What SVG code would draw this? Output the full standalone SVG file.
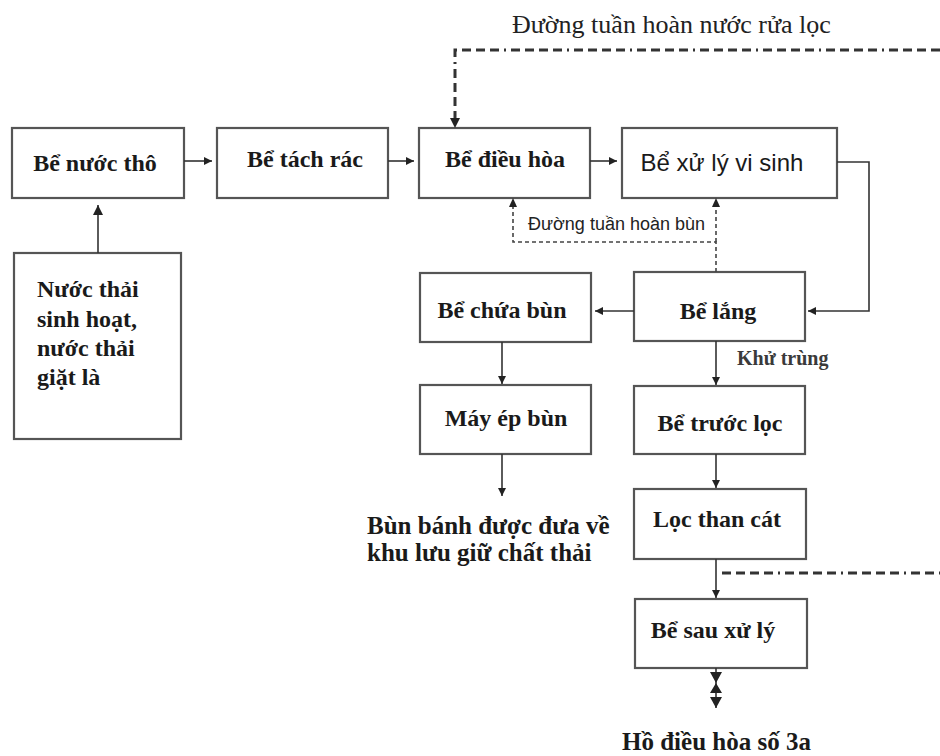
<svg xmlns="http://www.w3.org/2000/svg" width="940" height="756" viewBox="0 0 940 756">
  <defs>
    <style>
      .box { fill: #ffffff; stroke: #555555; stroke-width: 2.2; }
      .lbl { font-family: "Liberation Serif", "Times New Roman", serif; font-weight: bold; font-size: 24px; fill: #1a1a1a; }
      .lbl-lg { font-size: 25px; }
      .lbl-sans { font-family: "Liberation Sans", Arial, sans-serif; font-size: 24px; fill: #1a1a1a; }
      .note { font-family: "Liberation Serif", "Times New Roman", serif; font-size: 26px; fill: #222222; }
      .note-sans { font-family: "Liberation Sans", Arial, sans-serif; font-size: 18px; fill: #222222; }
      .note-bold { font-family: "Liberation Serif", "Times New Roman", serif; font-weight: bold; font-size: 20px; fill: #3a3a3a; }
      .flow { fill: none; stroke: #333333; stroke-width: 1.6; }
      .wash { fill: none; stroke: #333333; stroke-width: 3; stroke-dasharray: 9 5 9 5 9 5 9 5 2 5; }
      .sludge { fill: none; stroke: #444444; stroke-width: 1.6; stroke-dasharray: 4 3; }
    </style>
    <marker id="arr" viewBox="0 0 10 10" refX="10" refY="5" markerWidth="8" markerHeight="8" orient="auto" markerUnits="userSpaceOnUse">
      <path d="M0,0 L10,5 L0,10 z" fill="#222222"/>
    </marker>
    <marker id="arr-big" viewBox="0 0 10 10" refX="10" refY="5" markerWidth="10" markerHeight="10" orient="auto" markerUnits="userSpaceOnUse">
      <path d="M0,0 L10,5 L0,10 z" fill="#222222"/>
    </marker>
  </defs>

  <rect width="940" height="756" fill="#ffffff"/>

  <!-- process tanks -->
  <g id="be-nuoc-tho">
    <rect class="box" x="12" y="128" width="172" height="70"/>
    <text class="lbl" x="95" y="171" text-anchor="middle">Bể nước thô</text>
  </g>
  <g id="be-tach-rac">
    <rect class="box" x="217" y="128" width="171" height="70"/>
    <text class="lbl" x="305" y="167" text-anchor="middle">Bể tách rác</text>
  </g>
  <g id="be-dieu-hoa">
    <rect class="box" x="419" y="128" width="171" height="70"/>
    <text class="lbl" x="505" y="167" text-anchor="middle">Bể điều hòa</text>
  </g>
  <g id="be-xu-ly-vi-sinh">
    <rect class="box" x="622" y="128" width="215" height="70"/>
    <text class="lbl-sans" x="722" y="171" text-anchor="middle">Bể xử lý vi sinh</text>
  </g>
  <g id="nuoc-thai">
    <rect class="box" x="14" y="253" width="167" height="186"/>
    <text class="lbl" x="37" y="297">Nước thải</text>
    <text class="lbl" x="37" y="327">sinh hoạt,</text>
    <text class="lbl" x="37" y="356">nước thải</text>
    <text class="lbl" x="37" y="385">giặt là</text>
  </g>
  <g id="be-chua-bun">
    <rect class="box" x="420" y="273" width="171" height="69"/>
    <text class="lbl" x="502" y="318" text-anchor="middle">Bể chứa bùn</text>
  </g>
  <g id="be-lang">
    <rect class="box" x="634" y="272" width="171" height="69"/>
    <text class="lbl" x="718" y="319" text-anchor="middle">Bể lắng</text>
  </g>
  <g id="may-ep-bun">
    <rect class="box" x="420" y="385" width="171" height="69"/>
    <text class="lbl" x="506" y="426" text-anchor="middle">Máy ép bùn</text>
  </g>
  <g id="be-truoc-loc">
    <rect class="box" x="634" y="386" width="171" height="68"/>
    <text class="lbl" x="720" y="431" text-anchor="middle">Bể trước lọc</text>
  </g>
  <g id="loc-than-cat">
    <rect class="box" x="634" y="489" width="172" height="70"/>
    <text class="lbl" x="717" y="527" text-anchor="middle">Lọc than cát</text>
  </g>
  <g id="be-sau-xu-ly">
    <rect class="box" x="635" y="599" width="172" height="69"/>
    <text class="lbl" x="713" y="638" text-anchor="middle">Bể sau xử lý</text>
  </g>

  <!-- outlet labels -->
  <g id="bun-banh">
    <text class="lbl lbl-lg" x="367" y="534">Bùn bánh được đưa về</text>
    <text class="lbl lbl-lg" x="367" y="561">khu lưu giữ chất thải</text>
  </g>
  <g id="ho-dieu-hoa">
    <text class="lbl lbl-lg" x="622" y="750">Hồ điều hòa số 3a</text>
  </g>

  <!-- connectors -->
  <g id="connectors">
    <line class="flow" x1="98" y1="253" x2="98" y2="205" marker-end="url(#arr-big)"/>
    <line class="flow" x1="184" y1="161" x2="212" y2="161" marker-end="url(#arr)"/>
    <line class="flow" x1="388" y1="161" x2="414" y2="161" marker-end="url(#arr)"/>
    <line class="flow" x1="590" y1="161" x2="617" y2="161" marker-end="url(#arr)"/>
    <polyline class="flow" points="837,162 869,162 869,311 808,311" marker-end="url(#arr)"/>
    <line class="flow" x1="634" y1="311" x2="595" y2="311" marker-end="url(#arr)"/>
    <line class="flow" x1="502" y1="342" x2="502" y2="384" marker-end="url(#arr)"/>
    <line class="flow" x1="502" y1="454" x2="502" y2="496" marker-end="url(#arr)"/>
    <line class="flow" x1="716" y1="341" x2="716" y2="385" marker-end="url(#arr)"/>
    <line class="flow" x1="716" y1="454" x2="716" y2="488" marker-end="url(#arr)"/>
    <line class="flow" x1="716" y1="559" x2="716" y2="598" marker-end="url(#arr)"/>

    <!-- outlet with valve -->
    <line class="flow" x1="716" y1="668" x2="716" y2="708"/>
    <path d="M710,672 L722,672 L716,683 L722,693 L710,693 L716,683 z" fill="#222222"/>
    <path d="M710,697 L722,697 L716,708 z" fill="#222222"/>

    <!-- filter wash-water return -->
    <polyline class="wash" points="940,50 455,50 455,120"/>
    <path d="M450,118 L460,118 L455,128 z" fill="#222222"/>
    <line class="wash" x1="722" y1="573" x2="940" y2="573"/>

    <!-- sludge return -->
    <polyline class="sludge" points="716,272 716,242 513,242 513,205"/>
    <line class="sludge" x1="716" y1="242" x2="716" y2="205"/>
    <path d="M509,207 L517,207 L513,198 z" fill="#222222"/>
    <path d="M712,207 L720,207 L716,198 z" fill="#222222"/>
  </g>

  <!-- line labels -->
  <text class="note" x="512" y="33">Đường tuần hoàn nước rửa lọc</text>
  <text class="note-sans" x="528" y="230">Đường tuần hoàn bùn</text>
  <text class="note-bold" x="737" y="365">Khử trùng</text>
</svg>
